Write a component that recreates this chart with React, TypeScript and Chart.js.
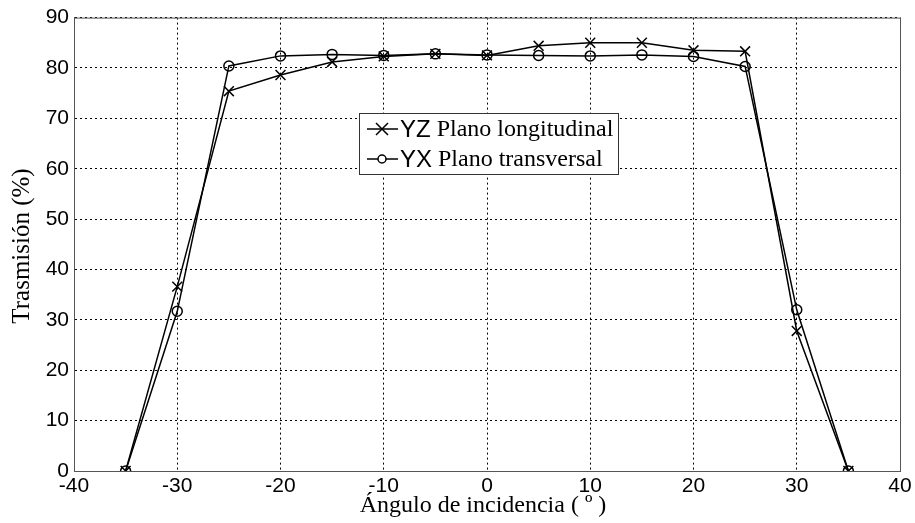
import React, { useEffect, useRef } from "react";
import { Chart, registerables } from "chart.js";

Chart.register(...registerables);

const angles = [-35, -30, -25, -20, -15, -10, -5, 0, 5, 10, 15, 20, 25, 30, 35];
const yzLongitudinal = [0, 36.6, 75.4, 78.6, 81.2, 82.3, 82.8, 82.5, 84.4, 85.0, 85.0, 83.5, 83.3, 27.8, 0];
const yxTransversal = [0, 31.7, 80.4, 82.4, 82.7, 82.5, 82.8, 82.6, 82.5, 82.4, 82.6, 82.3, 80.3, 32.0, 0];
const seriesLabels = [["YZ", " Plano longitudinal"], ["YX", " Plano transversal"]];
const xTitle = "Ángulo de incidencia ( º )";
const yTitle = "Trasmisión (%)";

const SANS = "'Liberation Sans', Arial, sans-serif";
const SERIF = "'Liberation Serif', 'Times New Roman', serif";

const decorPlugin = {
  id: "decor",
  afterDraw(chart: any) {
    const ctx = chart.ctx;
    const a = chart.chartArea;
    ctx.save();
    // full box border
    ctx.strokeStyle = "#555";
    ctx.lineWidth = 1;
    ctx.setLineDash([]);
    ctx.strokeRect(a.left + 0.5, a.top + 0.5, a.right - a.left, a.bottom - a.top);
    // axis titles
    ctx.fillStyle = "#000";
    ctx.font = "24px " + SERIF;
    ctx.textAlign = "center";
    ctx.textBaseline = "alphabetic";
    ctx.fillText(xTitle, 483, 512);
    ctx.save();
    ctx.translate(22, 246);
    ctx.rotate(-Math.PI / 2);
    ctx.font = "25px " + SERIF;
    ctx.textBaseline = "middle";
    ctx.fillText(yTitle, 0, 0);
    ctx.restore();
    // legend
    const bx = 359, by = 113, bw = 259, bh = 61;
    ctx.fillStyle = "#fff";
    ctx.fillRect(bx, by, bw, bh);
    ctx.strokeStyle = "#333";
    ctx.strokeRect(bx + 0.5, by + 0.5, bw, bh);
    const rows = [by + 16, by + 46];
    rows.forEach((ry, i) => {
      ctx.strokeStyle = "#000";
      ctx.lineWidth = 1.5;
      ctx.beginPath();
      ctx.moveTo(bx + 8, ry);
      ctx.lineTo(bx + 39, ry);
      ctx.stroke();
      const cx = bx + 23;
      ctx.beginPath();
      if (i === 0) {
        ctx.moveTo(cx - 6, ry - 6); ctx.lineTo(cx + 6, ry + 6);
        ctx.moveTo(cx + 6, ry - 6); ctx.lineTo(cx - 6, ry + 6);
      } else {
        ctx.arc(cx, ry, 4, 0, Math.PI * 2);
        ctx.fillStyle = "#fff";
        ctx.fill();
      }
      ctx.stroke();
      ctx.fillStyle = "#000";
      ctx.textBaseline = "middle";
      ctx.textAlign = "left";
      ctx.font = "24px " + SANS;
      const t0 = seriesLabels[i][0];
      ctx.fillText(t0, bx + 41, ry + 1);
      const w0 = ctx.measureText(t0).width;
      ctx.font = "24px " + SERIF;
      ctx.fillText(seriesLabels[i][1], bx + 41 + w0, ry + 1);
    });
    ctx.restore();
  },
};

export default function App() {
  const ref = useRef<HTMLCanvasElement>(null);
  useEffect(() => {
    document.body.style.margin = "0";
    const chart = new Chart(ref.current!, {
      type: "line",
      data: {
        datasets: [
          {
            label: "YZ Plano longitudinal",
            data: angles.map((x, i) => ({ x, y: yzLongitudinal[i] })),
            borderColor: "#000",
            borderWidth: 1.5,
            pointStyle: "crossRot",
            pointRadius: 7,
            pointBorderColor: "#000",
            pointBorderWidth: 1.5,
            tension: 0,
          },
          {
            label: "YX Plano transversal",
            data: angles.map((x, i) => ({ x, y: yxTransversal[i] })),
            borderColor: "#000",
            borderWidth: 1.5,
            pointStyle: "circle",
            pointRadius: 5,
            pointBackgroundColor: "rgba(0,0,0,0)",
            pointBorderColor: "#000",
            pointBorderWidth: 1.5,
            tension: 0,
          },
        ],
      },
      options: {
        animation: false,
        responsive: false,
        maintainAspectRatio: false,
        layout: { padding: { top: 14, right: 15, left: 0, bottom: 0 } },
        plugins: { legend: { display: false }, tooltip: { enabled: false } },
        scales: {
          x: {
            type: "linear",
            min: -40,
            max: 40,
            ticks: { stepSize: 10, color: "#000", font: { family: SANS, size: 21 }, padding: 3 },
            grid: { color: "#000", lineWidth: 1, drawTicks: false },
            border: { display: true, color: "#555", dash: [2, 3] },
            afterFit: (s: any) => { s.height = 52; },
          },
          y: {
            min: 0,
            max: 90,
            ticks: { stepSize: 10, color: "#000", font: { family: SANS, size: 21 }, padding: 5 },
            grid: { color: "#000", lineWidth: 1, drawTicks: false },
            border: { display: true, color: "#555", dash: [2, 3] },
            afterFit: (s: any) => { s.width = 74; },
          },
        },
      },
      plugins: [decorPlugin],
    } as any);
    return () => chart.destroy();
  }, []);
  return (
    <div style={{ width: 915, height: 523, background: "#fff" }}>
      <canvas ref={ref} width={915} height={523} style={{ display: "block" }} />
    </div>
  );
}
